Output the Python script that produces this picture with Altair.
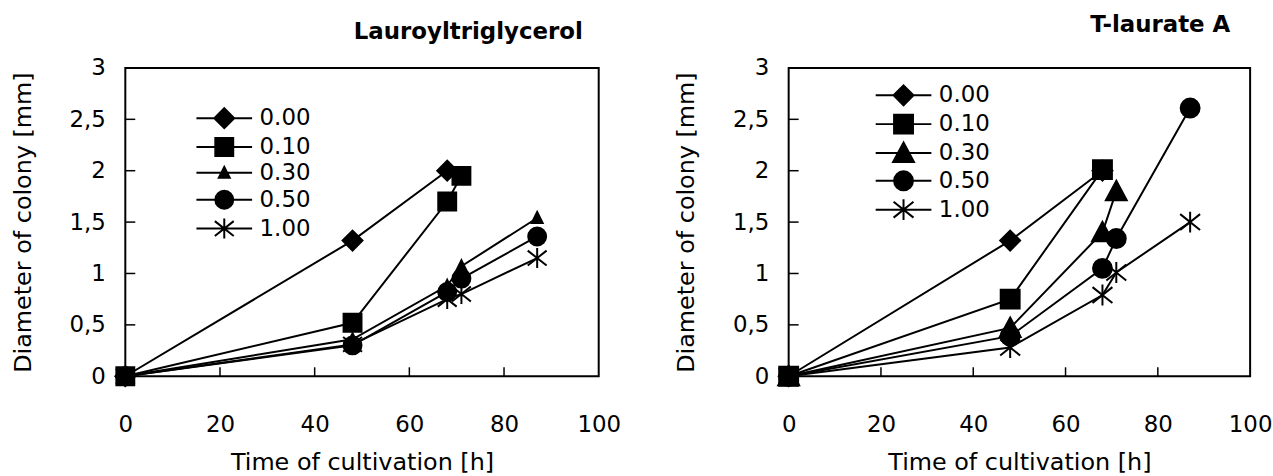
import altair as alt
import pandas as pd

FONT = "DejaVu Sans"
SERIES = ["0.00", "0.10", "0.30", "0.50", "1.00"]

# Lauroyltriglycerol panel: time [h] and colony diameter [mm] per concentration
LAURO_TIME = [[0, 48, 68], [0, 48, 68, 71], [0, 48, 68, 71, 87], [0, 48, 68, 71, 87], [0, 48, 68, 71, 87]]
LAURO_DIAM = [[0, 1.32, 2.00], [0, 0.52, 1.70, 1.95], [0, 0.36, 0.88, 1.07, 1.54],
              [0, 0.30, 0.82, 0.95, 1.36], [0, 0.31, 0.75, 0.80, 1.15]]

# T-laurate A panel
TLAUR_TIME = [[0, 48, 68], [0, 48, 68], [0, 48, 68, 71], [0, 48, 68, 71, 87], [0, 48, 68, 71, 87]]
TLAUR_DIAM = [[0, 1.32, 2.00], [0, 0.75, 2.01], [0, 0.47, 1.40, 1.80],
              [0, 0.39, 1.05, 1.34, 2.61], [0, 0.28, 0.79, 1.01, 1.50]]

X_TICKS = [0, 20, 40, 60, 80, 100]
Y_TICKS = [0, 0.5, 1, 1.5, 2, 2.5, 3]


def frame(times, diams):
    rows = []
    for s, ts, ds in zip(SERIES, times, diams):
        for t, d in zip(ts, ds):
            rows.append({"series": s, "time": t, "diam": d})
    return pd.DataFrame(rows)


def circle(r):
    return f"M{-r},0A{r},{r},0,1,0,{r},0A{r},{r},0,1,0,{-r},0Z"


LEFT_SHAPES = [
    "M0,-1L1,0L0,1L-1,0Z",
    "M-0.9,-0.9L0.9,-0.9L0.9,0.9L-0.9,0.9Z",
    "M0,-0.6L0.55,0.5L-0.55,0.5Z",
    circle(0.9),
    "M0,-1L0,1M-0.95,-0.75L0.95,0.75M-0.95,0.75L0.95,-0.75",
]
RIGHT_SHAPES = [
    "M0,-1L1,0L0,1L-1,0Z",
    "M-0.95,-0.95L0.95,-0.95L0.95,0.95L-0.95,0.95Z",
    "M0,-1.05L1.05,0.9L-1.05,0.9Z",
    circle(0.95),
    "M0,-1.05L0,1.05M-1,-0.8L1,0.8M-1,0.8L1,-0.8",
]
LEG_LINE = "M-2.8,0L2.8,0"


def panel(df, title, shapes, w, h, leg_x, leg_y, row_pad, title_dx, title_off):
    xs = alt.Scale(domain=[0, 100], nice=False, zero=False)
    ys = alt.Scale(domain=[0, 3], nice=False)
    x = alt.X("time:Q", scale=xs,
              axis=alt.Axis(values=X_TICKS, title="Time of cultivation [h]", labelFlush=False,
                            labelPadding=38, titlePadding=14))
    y = alt.Y("diam:Q", scale=ys,
              axis=alt.Axis(values=Y_TICKS, title="Diameter of colony [mm]", labelFlush=False,
                            labelExpr="replace(format(datum.value, '~g'), '.', ',')",
                            labelPadding=20, titlePadding=34))
    base = alt.Chart(df)
    lines = base.mark_line(color="black", strokeWidth=2).encode(x=x, y=y, detail="series:N")
    pts = base.mark_point(filled=True, fill="black", stroke="black", strokeWidth=2,
                          size=400, opacity=1).encode(
        x="time:Q", y="diam:Q",
        shape=alt.Shape("series:N", scale=alt.Scale(domain=SERIES, range=shapes), legend=None))
    leg = base.transform_filter("false").mark_point(
        filled=False, strokeWidth=2, size=400, opacity=1).encode(
        x="time:Q", y="diam:Q",
        fill=alt.value("black"), stroke=alt.value("black"),
        shape=alt.Shape("series:N",
                        scale=alt.Scale(domain=SERIES, range=[LEG_LINE + s for s in shapes]),
                        legend=alt.Legend(orient="none", legendX=leg_x, legendY=leg_y, title=None,
                                          symbolSize=400, symbolStrokeWidth=2, symbolOpacity=1,
                                          labelFont=FONT, labelFontSize=23, labelColor="black",
                                          labelOffset=24, rowPadding=row_pad, padding=0)))
    xt = alt.Chart(pd.DataFrame({"time": X_TICKS[1:-1]})).mark_rule(color="black", strokeWidth=1.5).encode(
        x=alt.X("time:Q", scale=xs), y=alt.value(h), y2=alt.value(h - 9))
    yt = alt.Chart(pd.DataFrame({"diam": Y_TICKS[1:-1]})).mark_rule(color="black", strokeWidth=1.5).encode(
        y=alt.Y("diam:Q", scale=ys), x=alt.value(0), x2=alt.value(10))
    return alt.layer(lines, xt, yt, pts, leg).resolve_scale(shape="independent").properties(
        width=w, height=h,
        title=alt.TitleParams(text=title, anchor="end", frame="group", font=FONT, fontSize=23,
                              fontWeight="bold", color="black", dx=title_dx, offset=title_off))


left = panel(frame(LAURO_TIME, LAURO_DIAM), "Lauroyltriglycerol", LEFT_SHAPES, 476, 310, 88, 39, 1, -16, 13)
right = panel(frame(TLAUR_TIME, TLAUR_DIAM), "T-laurate A", RIGHT_SHAPES, 464, 310, 104, 16, 1, -20, 20)

chart = alt.hconcat(left, right, spacing=52).resolve_scale(shape="independent").configure_view(
    stroke="black", strokeWidth=2
).configure_axis(
    labelFont=FONT, labelFontSize=23, labelColor="black",
    titleFont=FONT, titleFontSize=24, titleFontWeight="normal", titleColor="black",
    grid=False, domain=False, ticks=False, tickSize=0
).properties(padding={"left": 10, "top": 12, "right": 0, "bottom": 0}, background="white")

chart.save("out.html", embed_options={"renderer": "svg", "actions": False})
